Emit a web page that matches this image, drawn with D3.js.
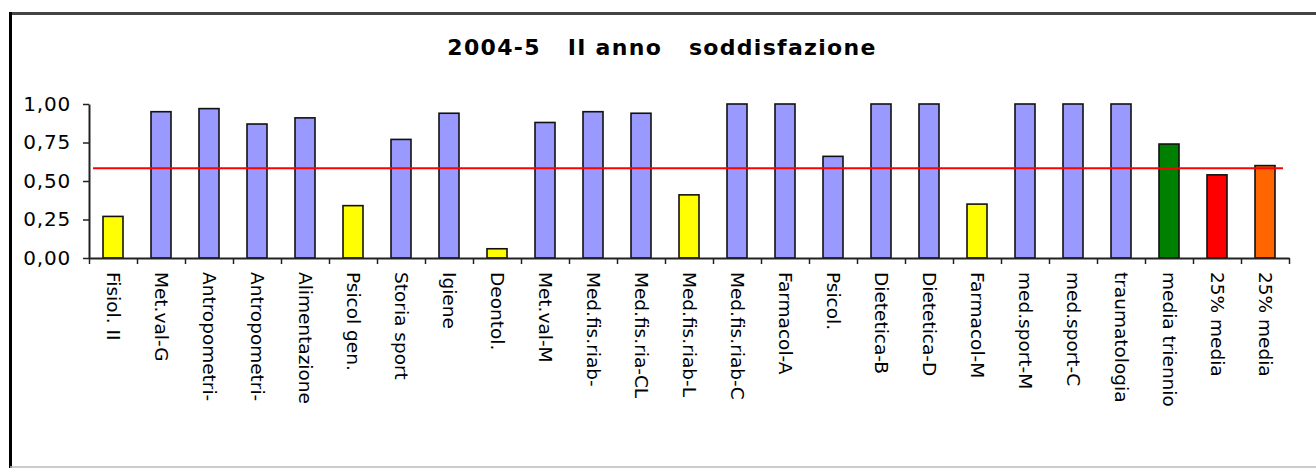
<!DOCTYPE html>
<html>
<head>
<meta charset="utf-8">
<script src="https://cdn.jsdelivr.net/npm/d3@7"></script>
<style>
  body { margin: 0; background: #fff; }
  svg { display: block; }
</style>
</head>
<body>
<script>
const categories = ["Fisiol. II", "Met.val-G", "Antropometri-", "Antropometri-", "Alimentazione",
  "Psicol gen.", "Storia sport", "Igiene", "Deontol.", "Met.val-M", "Med.fis.riab-",
  "Med.fis.ria-CL", "Med.fis.riab-L", "Med.fis.riab-C", "Farmacol-A", "Psicol.",
  "Dietetica-B", "Dietetica-D", "Farmacol-M", "med.sport-M", "med.sport-C",
  "traumatologia", "media triennio", "25% media", "25% media"];
const values = [0.27, 0.95, 0.97, 0.87, 0.91, 0.34, 0.77, 0.94, 0.06, 0.88, 0.95,
  0.94, 0.41, 1.00, 1.00, 0.66, 1.00, 1.00, 0.35, 1.00, 1.00, 1.00, 0.74, 0.54, 0.60];
// colour group of each bar: b = sufficient, y = below threshold, then the three summary bars
const groups = ["y", "b", "b", "b", "b", "y", "b", "b", "y", "b", "b", "b", "y", "b", "b", "b",
  "b", "b", "y", "b", "b", "b", "g", "r", "o"];
const yTicks = [0, 0.25, 0.5, 0.75, 1];
const threshold = 0.582;
const title = "2004-5   II anno   soddisfazione";

const colors = { b: "#9999ff", y: "#ffff00", g: "#008000", r: "#ff0000", o: "#ff6600" };

const svgWidth = 1316, svgHeight = 468;
const plot = { left: 89, right: 1289, top: 104, bottom: 258 };

const svg = d3.select("body")
  .append("svg")
  .attr("width", svgWidth)
  .attr("height", svgHeight);

// frame of the chart area
svg.append("line").attr("x1", 11).attr("x2", 1316).attr("y1", 13.5).attr("y2", 13.5)
  .attr("stroke", "#444").attr("stroke-width", 3);
svg.append("line").attr("x1", 10.5).attr("x2", 10.5).attr("y1", 12).attr("y2", 468)
  .attr("stroke", "#000").attr("stroke-width", 3);
svg.append("line").attr("x1", 10).attr("x2", 1316).attr("y1", 467).attr("y2", 467)
  .attr("stroke", "#bbb").attr("stroke-width", 1.5);

svg.append("text")
  .attr("x", 662)
  .attr("y", 55)
  .attr("text-anchor", "middle")
  .style("white-space", "pre")
  .style("font-family", "DejaVu Sans")
  .style("font-weight", "bold")
  .style("font-size", "22px")
  .style("letter-spacing", "1.3px")
  .text(title);

const idx = categories.map((d, i) => i);

const x = d3.scaleBand()
  .domain(idx)
  .range([plot.left, plot.right])
  .paddingInner(28 / 48)
  .paddingOuter(14 / 48);

const y = d3.scaleLinear()
  .domain([0, 1])
  .range([plot.bottom, plot.top]);

const fmt = d3.formatLocale({ decimal: ",", thousands: ".", grouping: [3], currency: ["€", ""] }).format(".2f");

// bars
svg.selectAll(".bar")
  .data(values)
  .enter()
  .append("rect")
  .attr("class", "bar")
  .attr("x", (d, i) => x(i))
  .attr("y", d => y(d))
  .attr("width", x.bandwidth())
  .attr("height", d => y(0) - y(d))
  .attr("fill", (d, i) => colors[groups[i]])
  .attr("stroke", "#111")
  .attr("stroke-width", 1.6);

// y axis
const yAxis = svg.append("g")
  .attr("transform", `translate(${plot.left},0)`)
  .call(d3.axisLeft(y).tickValues(yTicks).tickFormat(fmt).tickSize(6).tickSizeOuter(0).tickPadding(12));
yAxis.select(".domain").attr("stroke", "#222").attr("stroke-width", 2);
yAxis.selectAll(".tick line").attr("stroke", "#222").attr("stroke-width", 1.5);
yAxis.selectAll(".tick text")
  .attr("fill", "#000")
  .style("font-family", "DejaVu Sans")
  .style("font-size", "20px")
  .style("letter-spacing", "0.8px");

// x axis: ticks on category boundaries
const xb = d3.scaleLinear().domain([0, categories.length]).range([plot.left, plot.right]);
const xTicks = svg.append("g")
  .attr("transform", `translate(0,${plot.bottom})`)
  .call(d3.axisBottom(xb).ticks(categories.length).tickFormat("").tickSize(6).tickSizeOuter(0));
xTicks.select(".domain").attr("stroke", "#222").attr("stroke-width", 2);
xTicks.selectAll(".tick line").attr("stroke", "#222").attr("stroke-width", 1.5);

// x labels, rotated
const xAxis = svg.append("g")
  .attr("transform", `translate(0,${plot.bottom})`)
  .call(d3.axisBottom(x).tickFormat(i => categories[i]).tickSize(0));
xAxis.select(".domain").remove();
xAxis.selectAll(".tick text")
  .attr("fill", "#000")
  .attr("x", 0)
  .attr("y", 0)
  .attr("dy", null)
  .attr("transform", "translate(0,14) rotate(90)")
  .attr("text-anchor", "start")
  .attr("dominant-baseline", "central")
  .style("font-family", "DejaVu Sans")
  .style("font-size", "18.5px");

// threshold line
svg.append("line")
  .attr("x1", plot.left + 4)
  .attr("x2", plot.right - 6)
  .attr("y1", y(threshold))
  .attr("y2", y(threshold))
  .attr("stroke", "#ff0000")
  .attr("stroke-width", 2);
</script>
</body>
</html>
